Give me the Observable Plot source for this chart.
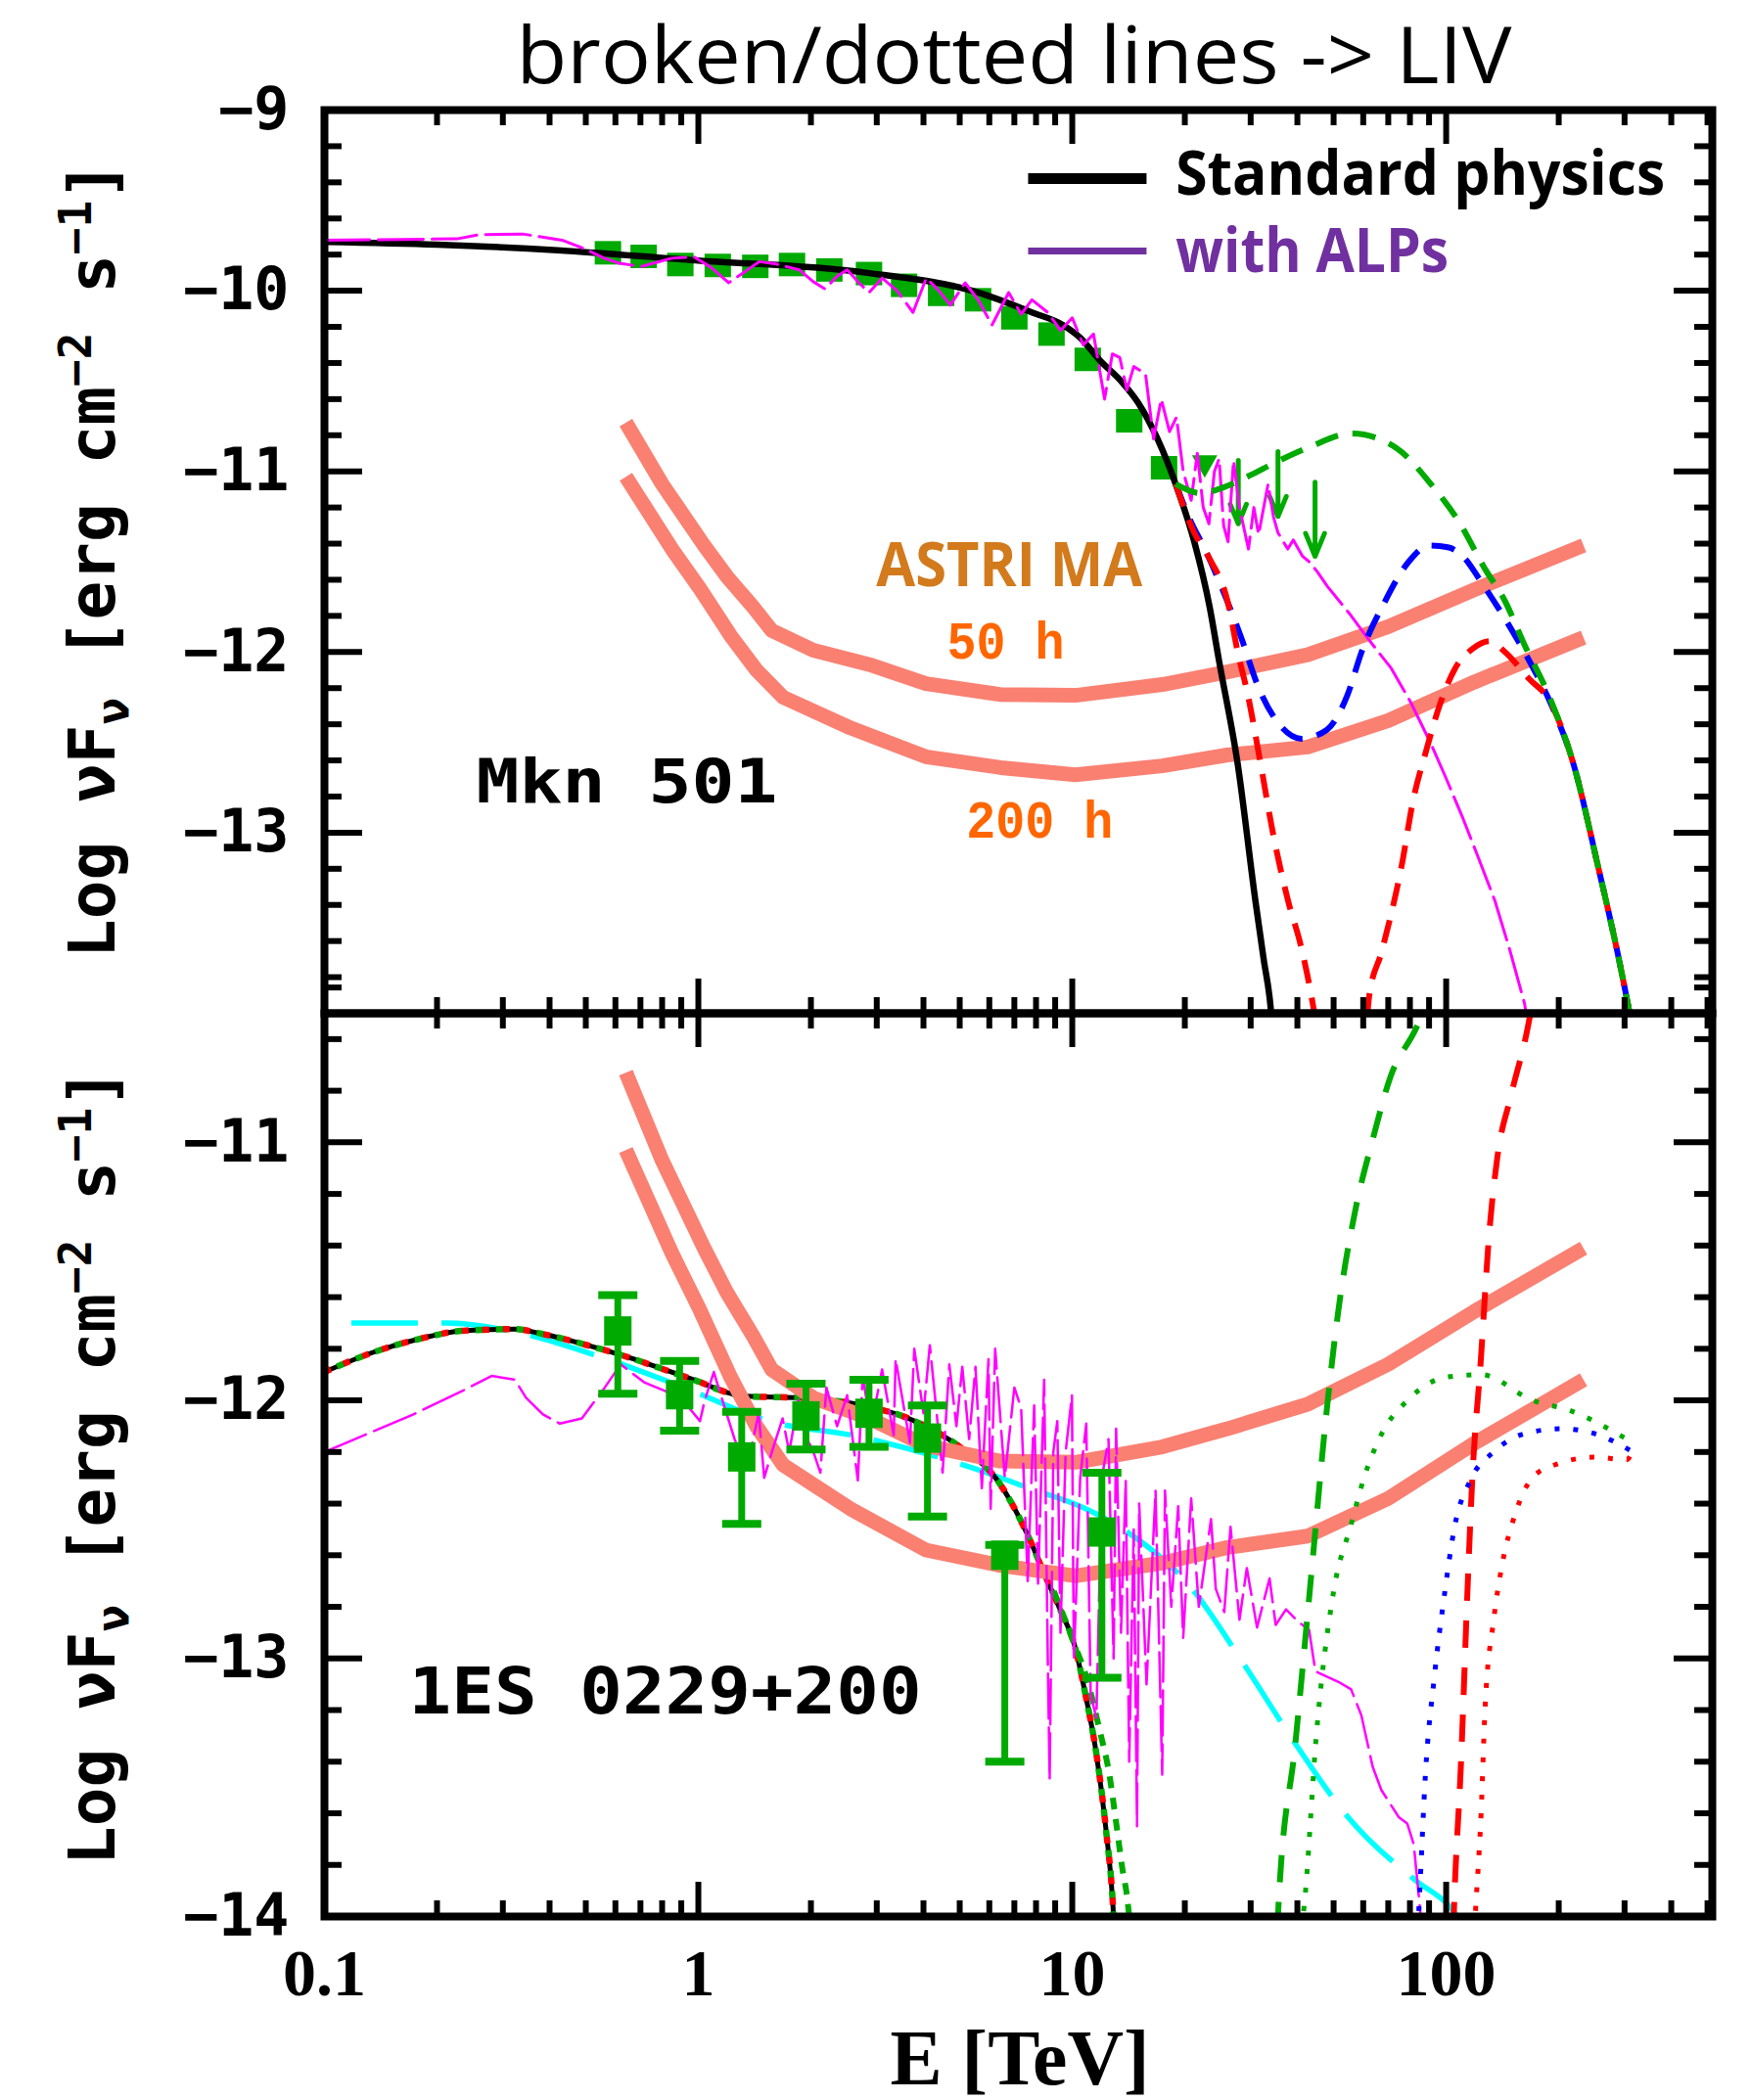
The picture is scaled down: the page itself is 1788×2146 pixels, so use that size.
<!DOCTYPE html>
<html><head><meta charset="utf-8">
<script src="https://cdn.jsdelivr.net/npm/d3@7"></script>
<script src="https://cdn.jsdelivr.net/npm/@observablehq/plot@0.6"></script>
<style>
html,body{margin:0;padding:0;background:#fff;}
#wrap{position:relative;width:1788px;height:2146px;overflow:hidden;background:#fff;}
#wrap svg{position:absolute;left:0;overflow:visible;background:transparent;}
</style></head><body><div id="wrap"></div>
<script>
// ---------------- axis tick values ----------------
const xDomain = [0.1, 515];
const xTickLabels = [0.1, 1, 10, 100];
const xMajor = [1, 10, 100];
const xMinor = [0.2,0.3,0.4,0.5,0.6,0.7,0.8,0.9,2,3,4,5,6,7,8,9,20,30,40,50,60,70,80,90,200,300,400,500];
const yTicksTop = [-9, -10, -11, -12, -13];
const yTicksBottom = [-11, -12, -13, -14];

// ---------------- Mkn 501 (top panel) ----------------
const stdTop = [[0.1,-9.73],[0.2,-9.745],[0.42,-9.776],[0.95,-9.83],[2.8,-9.9],[5.6,-10.01],[7.8,-10.12],[9.45,-10.19],[10.5,-10.26],[11.9,-10.39],[13.5,-10.5],[15,-10.62],[16.9,-10.82],[18.9,-11.07],[21.2,-11.39],[23.3,-11.75],[24.7,-12.05],[27.7,-12.62],[30.9,-13.38],[32.5,-13.7],[33.9,-13.96],[34.2,-14.05]];
const blueDashTop = [[18.9,-11.07],[21,-11.3],[22.5,-11.42],[25.3,-11.66],[28.3,-11.92],[31.4,-12.19],[36.1,-12.41],[41,-12.48],[48,-12.43],[54.4,-12.24],[59.4,-12.0],[68.2,-11.73],[79.4,-11.5],[90,-11.41],[101,-11.42],[112,-11.48],[123,-11.6],[147,-11.85],[172,-12.1],[189,-12.27],[219,-12.62],[255,-13.19],[287,-13.66],[311,-14.02]];
const redDashTopA = [[18.9,-11.07],[21.2,-11.34],[23.1,-11.47],[26.1,-11.73],[27.7,-12.0],[29.5,-12.24],[31.9,-12.62],[34.4,-13.0],[37.8,-13.38],[40.8,-13.62],[43.3,-13.87],[44.6,-14.02]];
const redDashTopB = [[61.5,-14.02],[62.2,-13.91],[67.2,-13.66],[75.9,-13.19],[81.8,-12.81],[88.3,-12.55],[96.6,-12.28],[105.7,-12.09],[118,-11.98],[131,-11.94],[143.6,-12.0],[167,-12.15],[189,-12.27],[219,-12.62],[255,-13.19],[287,-13.66],[311,-14.02]];
const greenDashTop = [[18.9,-11.07],[22,-11.12],[26,-11.08],[30,-11.02],[35,-10.95],[42.6,-10.87],[56,-10.79],[73.5,-10.87],[91,-11.07],[109,-11.29],[127,-11.54],[143,-11.71],[162,-11.96],[189,-12.25],[219,-12.62],[255,-13.19],[287,-13.66],[311,-14.02]];
const alpsTop = [[0.1,-9.72],[0.226,-9.713],[0.259,-9.69],[0.339,-9.686],[0.432,-9.72],[0.495,-9.767],[0.56,-9.82],[0.614,-9.848],[0.703,-9.866],[0.849,-9.82],[0.972,-9.812],[1.08,-9.87],[1.205,-9.956],[1.32,-9.9],[1.455,-9.839],[1.6,-9.85],[1.86,-9.884],[2.03,-9.95],[2.18,-9.99],[2.35,-9.92],[2.5,-9.884],[2.7,-9.96],[2.86,-10.01],[3.1,-9.93],[3.4,-10.0],[3.75,-10.12],[4.07,-9.93],[4.4,-10.0],[4.72,-10.08],[5.17,-9.956],[5.6,-10.05],[6.1,-10.19],[6.76,-10.01],[7.3,-10.13],[7.8,-10.05],[8.6,-10.12],[9.3,-10.22],[10.0,-10.15],[10.7,-10.3],[11.4,-10.24],[12.2,-10.6],[12.8,-10.35],[13.4,-10.37],[14.0,-10.55],[14.6,-10.42],[15.7,-10.46],[16.5,-10.82],[17.3,-10.6],[18.2,-10.78],[19.0,-10.7],[19.8,-11.0],[20.8,-11.16],[21.6,-10.9],[22.4,-11.2],[23.2,-11.29],[24.0,-11.0],[24.7,-10.93],[25.4,-11.3],[26.1,-11.39],[27,-10.94],[28,-11.2],[29.6,-11.43],[30.6,-11.2],[31.5,-11.35],[33.4,-11.07],[34.5,-11.25],[35.5,-11.34],[37.7,-11.43],[39,-11.38],[41.3,-11.47],[43,-11.5],[45.2,-11.555],[48.1,-11.636],[55.1,-11.787],[62,-11.93],[71.3,-12.09],[80,-12.27],[91,-12.507],[100,-12.7],[111,-12.923],[122,-13.14],[135,-13.377],[148,-13.65],[162,-13.945],[165,-14.05]];
const dataTop = [[0.573,-9.79],[0.714,-9.81],[0.895,-9.855],[1.127,-9.86],[1.42,-9.865],[1.78,-9.855],[2.24,-9.885],[2.86,-9.905],[3.55,-9.97],[4.46,-10.02],[5.6,-10.05],[7.0,-10.15],[8.8,-10.24],[11.0,-10.38],[14.2,-10.72],[17.6,-10.98]];
const triTop = [[22.6,-10.97]];
const upperLimitsTop = [[27.8,-10.94,-11.29],[35.5,-10.89,-11.25],[44.6,-11.06,-11.47]];

// ---------------- ASTRI MA sensitivity (both panels) ----------------
const sens50h = [[0.64,-10.73],[0.8,-11.07],[1.036,-11.41],[1.19,-11.58],[1.4,-11.75],[1.57,-11.88],[2.03,-11.99],[2.87,-12.07],[4.06,-12.175],[6.4,-12.235],[10.2,-12.24],[17.4,-12.18],[26,-12.11],[42.6,-12.015],[70,-11.86],[119,-11.655],[233,-11.41]];
const sens200h = [[0.64,-11.03],[0.85,-11.43],[1.01,-11.65],[1.22,-11.91],[1.43,-12.1],[1.685,-12.25],[2.55,-12.42],[4.06,-12.58],[6.44,-12.64],[10.2,-12.68],[17.4,-12.63],[26,-12.57],[42.6,-12.526],[70,-12.38],[119,-12.166],[233,-11.92]];

// ---------------- 1ES 0229+200 (bottom panel) ----------------
const stdBot = [[0.1,-11.89],[0.1355,-11.813],[0.179,-11.762],[0.236,-11.73],[0.323,-11.724],[0.384,-11.743],[0.507,-11.787],[0.624,-11.825],[0.946,-11.914],[1.34,-11.984],[1.89,-11.99],[2.68,-12.016],[3.79,-12.08],[5.0,-12.18],[6.38,-12.32],[7.59,-12.52],[8.41,-12.67],[9.34,-12.82],[10.1,-12.94],[10.9,-13.155],[11.6,-13.37],[12.3,-13.66],[12.85,-13.96],[12.95,-14.05]];
const greenDashBotA = [[8.93,-12.74],[10.1,-12.94],[10.9,-13.07],[11.8,-13.27],[12.6,-13.46],[13.1,-13.635],[13.6,-13.81],[14.06,-13.94],[14.3,-14.05]];
const greenDashBotB = [[35.4,-14.05],[35.6,-13.96],[39.5,-13.33],[44,-12.61],[47.6,-12.08],[51.5,-11.65],[57.3,-11.255],[63.6,-10.99],[70.8,-10.75],[83,-10.56],[89,-10.46]];
const redDashBotB = [[104.5,-14.05],[105,-13.96],[109.6,-13.4],[114,-12.74],[117.5,-12.3],[123.7,-11.85],[130.4,-11.35],[137,-11.06],[149,-10.82],[165,-10.56],[170,-10.46]];
const greenDotBotB = [[41,-14.05],[41.7,-13.96],[45,-13.29],[50,-12.74],[55.7,-12.48],[60.3,-12.3],[67.2,-12.13],[78.8,-12.0],[100,-11.91],[124,-11.9],[170,-12.0],[215,-12.04],[304,-12.15]];
const blueDotBotB = [[84,-14.05],[85,-13.9],[88,-13.45],[93,-13.07],[99,-12.75],[105,-12.5],[117,-12.3],[134,-12.2],[161,-12.13],[204,-12.11],[251,-12.13],[316,-12.2]];
const redDotBotB = [[119,-14.05],[120,-13.96],[124,-13.6],[127,-13.2],[134,-12.85],[141,-12.64],[153,-12.44],[170,-12.3],[195,-12.25],[250,-12.22],[304,-12.23],[316,-12.19]];
const cyanBot = [[0.118,-11.7],[0.213,-11.7],[0.312,-11.73],[0.543,-11.83],[0.914,-11.95],[1.54,-12.08],[2.68,-12.14],[5.37,-12.26],[7.84,-12.345],[10.5,-12.41],[13.7,-12.5],[20.9,-12.73],[28.7,-13.02],[39.5,-13.33],[54.3,-13.61],[82.8,-13.86],[102,-13.96],[110,-14.02]];
const alpsBot = [[0.1,-12.2],[0.135,-12.12],[0.173,-12.054],[0.236,-11.96],[0.28,-11.905],[0.323,-11.92],[0.346,-11.99],[0.384,-12.054],[0.426,-12.09],[0.488,-12.07],[0.562,-11.95],[0.62,-11.86],[0.716,-11.93],[0.82,-11.965],[0.946,-12.03],[1.01,-12.08],[1.04,-12.0],[1.1,-11.89],[1.16,-12.0],[1.25,-12.15],[1.35,-12.26],[1.45,-12.05],[1.5,-12.3],[1.58,-12.19],[1.68,-12.07],[1.75,-12.2],[1.85,-12.0],[1.95,-12.15],[2.02,-12.19],[2.12,-12.28],[2.2,-11.95],[2.35,-12.1],[2.5,-11.98],[2.67,-12.31],[2.75,-11.91],[2.9,-12.1],[3.1,-11.88],[3.33,-12.135],[3.37,-11.84],[3.68,-12.165],[3.78,-11.8],[4.0,-12.05],[4.16,-11.786],[4.5,-12.28],[4.69,-11.86],[4.9,-12.1],[5.08,-11.87],[5.3,-12.15],[5.51,-11.87],[5.73,-12.34],[5.97,-11.84],[6.05,-12.42],[6.22,-11.8],[6.6,-12.3],[7.0,-11.95],[7.3,-12.03],[7.6,-12.7],[7.91,-12.02],[8.1,-12.71],[8.41,-11.92],[8.6,-13.0],[8.7,-13.47],[8.9,-12.2],[9.12,-12.08],[9.3,-12.9],[9.6,-12.2],[9.98,-11.98],[10.1,-13.01],[10.5,-12.3],[10.9,-12.09],[11.2,-13.14],[11.6,-13.23],[12.0,-12.3],[12.5,-12.15],[12.9,-13.0],[13.1,-12.11],[13.5,-12.9],[13.9,-12.31],[14.2,-13.4],[14.6,-12.5],[14.9,-13.65],[15.1,-12.4],[15.8,-13.1],[16.7,-12.35],[17.4,-13.45],[17.7,-12.35],[18.4,-12.8],[19.2,-12.41],[19.8,-12.92],[20.8,-12.38],[21.8,-12.8],[23.5,-12.46],[24.2,-12.73],[25.5,-12.82],[26.5,-12.49],[28,-12.85],[29.3,-12.65],[31.2,-12.88],[33.7,-12.69],[35,-12.87],[37.3,-12.81],[40.4,-12.86],[43,-12.89],[44.7,-13.05],[51.4,-13.09],[55.7,-13.12],[59.3,-13.22],[63.6,-13.42],[67.1,-13.51],[74.7,-13.615],[78.7,-13.64],[81.9,-13.72],[85,-13.96],[86,-14.05]];
// [E, value, low, high]
const dataBot = [[0.609,-11.731,-11.974,-11.592],[0.891,-11.978,-12.117,-11.847],[1.306,-12.219,-12.478,-12.044],[1.94,-12.06,-12.19,-11.935],[2.86,-12.05,-12.18,-11.92],[4.1,-12.146,-12.45,-12.02],[6.6,-12.6,-13.4,-12.56],[12.0,-12.51,-13.075,-12.28]];

// ---------------- annotations ----------------
const legendLines = [{E1:7.62,E2:15.8,v:-9.379},{E1:7.62,E2:15.8,v:-9.78}];
const legendText = [{t:"Standard physics",E:18.9,v:-9.466},{t:"with ALPs",E:18.9,v:-9.899}];
const astriText = [{t:"ASTRI MA",E:2.99,v:-11.633}];
const hoursText = [{t:"50 h",E:4.62,v:-12.034},{t:"200 h",E:5.21,v:-13.025}];
const sourceTop = [{t:"Mkn 501",E:0.2546,v:-12.83}];
const sourceBot = [{t:"1ES 0229+200",E:0.168,v:-13.215}];
const fitWidths = {"ASTRI MA":272,"50 h":120,"200 h":150,"Mkn 501":308,"Standard physics":500,"with ALPs":279,"1ES 0229+200":524};

(function () {
const W = 1788, ML = 331, MR = 39, PH = 923, PW = W - ML - MR;
const GREEN = "#00AA00", SALMON = "#FA8072", MAG = "#FF00FF";
const xy = (o) => ({x: d => d[0], y: d => d[1], clip: true, ...o});
const minorY = (lo, hi) => d3.range(Math.round(lo*5), Math.round(hi*5)+1).map(k => k/5).filter(v => Math.abs(v - Math.round(v)) > 1e-6);

const sq = (w, h) => ({draw(ctx){ ctx.rect(-w/2, -h/2, w, h); }});
const triDown = {draw(ctx){ ctx.moveTo(-13,-11); ctx.lineTo(13,-11); ctx.lineTo(0,12); ctx.closePath(); }};

function tickMarks(yMajor, yMinor) {
  const k = {stroke: "black", strokeWidth: 6};
  return [
    Plot.ruleX(xMajor, {x: d => d, insetTop: PH - 35, ...k}),
    Plot.ruleX(xMajor, {x: d => d, insetBottom: PH - 35, ...k}),
    Plot.ruleX(xMinor, {x: d => d, insetTop: PH - 16, ...k}),
    Plot.ruleX(xMinor, {x: d => d, insetBottom: PH - 16, ...k}),
    Plot.ruleY(yMajor, {y: d => d, insetRight: PW - 39, ...k}),
    Plot.ruleY(yMajor, {y: d => d, insetLeft: PW - 39, ...k}),
    Plot.ruleY(yMinor, {y: d => d, insetRight: PW - 18, ...k}),
    Plot.ruleY(yMinor, {y: d => d, insetLeft: PW - 18, ...k}),
    Plot.frame({stroke: "black", strokeWidth: 8})
  ];
}
const yAxis = (ticks) => Plot.axisY({ticks, tickFormat: d => "\u2212" + Math.abs(d), tickSize: 0, tickPadding: 36,
  fontSize: 60, fontFamily: "DejaVu Sans Mono", fontWeight: "bold", fill: "black", label: null});
const sensMarks = () => [
  Plot.line(sens50h, xy({stroke: SALMON, strokeWidth: 15, strokeLinecap: "butt", strokeLinejoin: "round"})),
  Plot.line(sens200h, xy({stroke: SALMON, strokeWidth: 15, strokeLinecap: "butt", strokeLinejoin: "round"}))
];
const dashed = (c, w=5.5, da="24,15") => ({stroke: c, strokeWidth: w, strokeDasharray: da, strokeLinecap: "butt", curve: "monotone-x"});
const dotted = (c) => ({stroke: c, strokeWidth: 5, strokeDasharray: "5,14", strokeLinecap: "butt", curve: "monotone-x"});
const txt = (data, o) => Plot.text(data, {x: "E", y: "v", text: "t", textAnchor: "start", lineAnchor: "bottom", ...o});

const topPlot = Plot.plot({
  width: W, height: 112 + PH, marginTop: 112, marginBottom: 0, marginLeft: ML, marginRight: MR,
  style: {background: "transparent", overflow: "visible"},
  x: {type: "log", domain: xDomain, axis: null},
  y: {domain: [-14, -9], axis: null},
  marks: [
    ...sensMarks(),
    Plot.dot(dataTop, xy({symbol: sq(27, 24), fill: GREEN, stroke: "none"})),
    Plot.dot(triTop, xy({symbol: triDown, fill: GREEN, stroke: "none"})),
    Plot.arrow(upperLimitsTop, {x1: d => d[0], y1: d => d[1], x2: d => d[0], y2: d => d[2], stroke: GREEN, strokeWidth: 5, headLength: 22, headAngle: 45}),
    Plot.line(stdTop, xy({stroke: "black", strokeWidth: 6.5, curve: "monotone-x"})),
    Plot.line(alpsTop, xy({stroke: MAG, strokeWidth: 3, strokeDasharray: "46,9"})),
    Plot.line(blueDashTop, xy(dashed("#0000FF", 6))),
    Plot.line(redDashTopA, xy(dashed("#FF0000", 6))),
    Plot.line(redDashTopB, xy(dashed("#FF0000", 6))),
    Plot.line(greenDashTop, xy(dashed(GREEN, 6))),
    Plot.link(legendLines.slice(0,1), {x1: "E1", x2: "E2", y1: "v", y2: "v", stroke: "#000000", strokeWidth: 11, strokeLinecap: "butt"}),
    Plot.link(legendLines.slice(1), {x1: "E1", x2: "E2", y1: "v", y2: "v", stroke: "#7030A0", strokeWidth: 7, strokeLinecap: "butt"}),
    txt(legendText.slice(0,1), {fill: "#000000", fontFamily: "Open Sans", fontWeight: "bold", fontSize: 62}),
    txt(legendText.slice(1), {fill: "#7030A0", fontFamily: "Open Sans", fontWeight: "bold", fontSize: 62}),
    txt(astriText, {fill: "#D27A1C", fontFamily: "Open Sans", fontWeight: "bold", fontSize: 62}),
    txt(hoursText, {fill: "#FF6600", fontFamily: "Liberation Mono", fontWeight: "bold", fontSize: 54}),
    txt(sourceTop, {fill: "black", fontFamily: "DejaVu Sans Mono", fontWeight: "bold", fontSize: 62}),
    ...tickMarks([-9,-10,-11,-12,-13,-14], minorY(-14, -9)),
    yAxis(yTicksTop)
  ]
});

const bottomPlot = Plot.plot({
  width: W, height: PH + 188, marginTop: 0, marginBottom: 188, marginLeft: ML, marginRight: MR,
  style: {background: "transparent", overflow: "visible"},
  x: {type: "log", domain: xDomain, axis: null},
  y: {domain: [-14, -10.5], axis: null},
  marks: [
    Plot.line(cyanBot, xy({stroke: "#00FFFF", strokeWidth: 5.5, strokeDasharray: "68,24", strokeLinecap: "butt", curve: "monotone-x"})),
    Plot.line(stdBot, xy({stroke: "black", strokeWidth: 5, curve: "monotone-x"})),
    Plot.line(stdBot, xy({stroke: "#FF0000", strokeWidth: 6.5, strokeDasharray: "7,14", strokeLinecap: "butt", curve: "monotone-x"})),
    Plot.line(stdBot, xy({stroke: GREEN, strokeWidth: 6.5, strokeDasharray: "7,14", strokeDashoffset: 7, strokeLinecap: "butt", curve: "monotone-x"})),
    Plot.line(greenDashBotA, xy(dashed(GREEN, 6, "12,10"))),
    ...sensMarks(),
    Plot.line(alpsBot, xy({stroke: MAG, strokeWidth: 2.5, strokeDasharray: "46,9"})),
    Plot.line(greenDashBotB, xy(dashed(GREEN, 6, "28,20"))),
    Plot.line(redDashBotB, xy(dashed("#FF0000", 6, "28,20"))),
    Plot.line(greenDotBotB, xy(dotted(GREEN))),
    Plot.line(blueDotBotB, xy(dotted("#0000FF"))),
    Plot.line(redDotBotB, xy(dotted("#FF0000"))),
    Plot.ruleX(dataBot, {x: d => d[0], y1: d => d[2], y2: d => d[3], stroke: GREEN, strokeWidth: 7}),
    Plot.dot(dataBot, {x: d => d[0], y: d => d[2], symbol: sq(40, 8), fill: GREEN, stroke: "none"}),
    Plot.dot(dataBot, {x: d => d[0], y: d => d[3], symbol: sq(40, 8), fill: GREEN, stroke: "none"}),
    Plot.dot(dataBot, {x: d => d[0], y: d => d[1], symbol: sq(28, 30), fill: GREEN, stroke: "none"}),
    txt(sourceBot, {fill: "black", fontFamily: "DejaVu Sans Mono", fontWeight: "bold", fontSize: 66}),
    ...tickMarks([-11,-12,-13], minorY(-14, -10.5)),
    yAxis(yTicksBottom),
    Plot.axisX({ticks: xTickLabels, tickFormat: d => String(d), tickSize: 0, tickPadding: 32,
      fontSize: 68, fontFamily: "Liberation Serif", fontWeight: "bold", fill: "black", label: null})
  ]
});

const wrap = document.getElementById("wrap");
topPlot.style.top = "0px";
bottomPlot.style.top = (112 + PH) + "px";
wrap.appendChild(topPlot);
wrap.appendChild(bottomPlot);

for (const svg of [topPlot, bottomPlot]) {
  d3.select(svg).selectAll("text").each(function() {
    const t = this.textContent;
    if (fitWidths[t]) { this.setAttribute("textLength", fitWidths[t]); this.setAttribute("lengthAdjust", "spacingAndGlyphs"); }
  });
}

function addYLabel(svg, cy) {
  const g = d3.select(svg).append("text")
    .attr("transform", `translate(117,${cy}) rotate(-90)`)
    .attr("text-anchor", "middle").attr("font-family", "DejaVu Sans Mono")
    .attr("font-weight", "bold").attr("font-size", 66).attr("fill", "black");
  const parts = [["Log \u03BDF", 0, 66], ["\u03BD", 14, 46], [" [erg cm", -14, 66], ["\u22122", -24, 46], [" s", 24, 66], ["\u22121", -24, 46], ["]", 24, 66]];
  for (const [t, dy, fs] of parts) g.append("tspan").attr("dy", dy).attr("font-size", fs).text(t);
}
addYLabel(topPlot, 572);
addYLabel(bottomPlot, 464);

d3.select(topPlot).append("text").attr("x", 1036).attr("y", 85).attr("text-anchor", "middle")
  .attr("font-family", "Open Sans").attr("font-size", 80).attr("fill", "black")
  .attr("textLength", 1017).attr("lengthAdjust", "spacingAndGlyphs")
  .text("broken/dotted lines -> LIV");

d3.select(bottomPlot).append("text").attr("x", 1042).attr("y", 1095).attr("text-anchor", "middle")
  .attr("font-family", "Liberation Serif").attr("font-weight", "bold").attr("font-size", 80).attr("fill", "black")
  .attr("textLength", 265).attr("lengthAdjust", "spacingAndGlyphs")
  .text("E [TeV]");
})();
</script></body></html>
